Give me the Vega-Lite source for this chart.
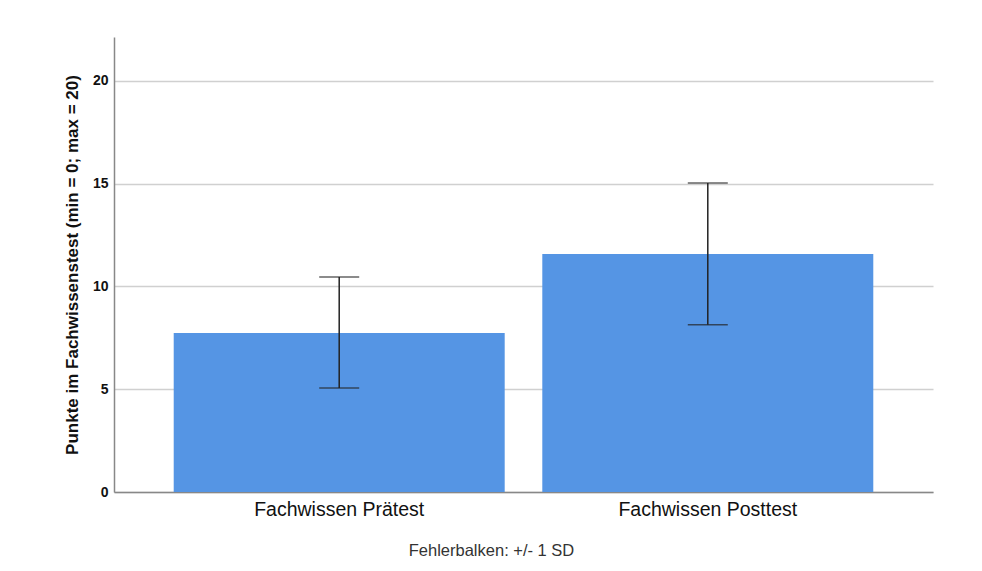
{
  "$schema": "https://vega.github.io/schema/vega-lite/v6.json",
  "width": 819,
  "height": 455,
  "autosize": {"type": "none"},
  "padding": {"left": 114, "top": 37, "right": 49, "bottom": 79},
  "background": "white",
  "config": {
    "view": {"stroke": null},
    "font": "Liberation Sans"
  },
  "title": {
    "text": "Fehlerbalken: +/- 1 SD",
    "orient": "bottom",
    "anchor": "middle",
    "frame": "group",
    "dx": -32,
    "offset": 24,
    "fontSize": 16.5,
    "fontWeight": "normal",
    "color": "#333333",
    "font": "Liberation Sans"
  },
  "data": {
    "values": [
      {"test": "Fachwissen Prätest", "mean": 7.74, "lo": 5.06, "hi": 10.46},
      {"test": "Fachwissen Posttest", "mean": 11.58, "lo": 8.14, "hi": 15.04}
    ]
  },
  "encoding": {
    "x": {
      "field": "test",
      "type": "nominal",
      "sort": null,
      "scale": {"paddingInner": 0.102, "paddingOuter": 0.162},
      "axis": {
        "title": null,
        "labelAngle": 0,
        "labelFontSize": 19.5,
        "labelColor": "#111111",
        "labelPadding": 8,
        "ticks": false,
        "domainColor": "#888888",
        "domainWidth": 1.5,
        "grid": false
      }
    }
  },
  "layer": [
    {
      "mark": {"type": "bar", "color": "#5595e4"},
      "encoding": {
        "y": {
          "field": "mean",
          "type": "quantitative",
          "scale": {"domain": [0, 22.14], "nice": false},
          "axis": {
            "values": [0, 5, 10, 15, 20],
            "title": "Punkte im Fachwissenstest (min = 0; max = 20)",
            "titleFontSize": 17,
            "titleFontWeight": "bold",
            "titleColor": "#111111",
            "titlePadding": 11,
            "labelFontSize": 14,
            "labelFontWeight": "bold",
            "labelColor": "#111111",
            "labelPadding": 6,
            "ticks": false,
            "domainColor": "#888888",
            "domainWidth": 1.5,
            "gridColor": "#d0d0d0",
            "gridWidth": 1.5
          }
        }
      }
    },
    {
      "mark": {"type": "rule", "color": "#222222", "strokeWidth": 1.5},
      "encoding": {
        "y": {"field": "lo", "type": "quantitative"},
        "y2": {"field": "hi"}
      }
    },
    {
      "mark": {"type": "tick", "color": "#222222", "size": 40, "thickness": 1.5},
      "encoding": {
        "y": {"field": "hi", "type": "quantitative"}
      }
    },
    {
      "mark": {"type": "tick", "color": "#222222", "size": 40, "thickness": 1.5},
      "encoding": {
        "y": {"field": "lo", "type": "quantitative"}
      }
    }
  ]
}
